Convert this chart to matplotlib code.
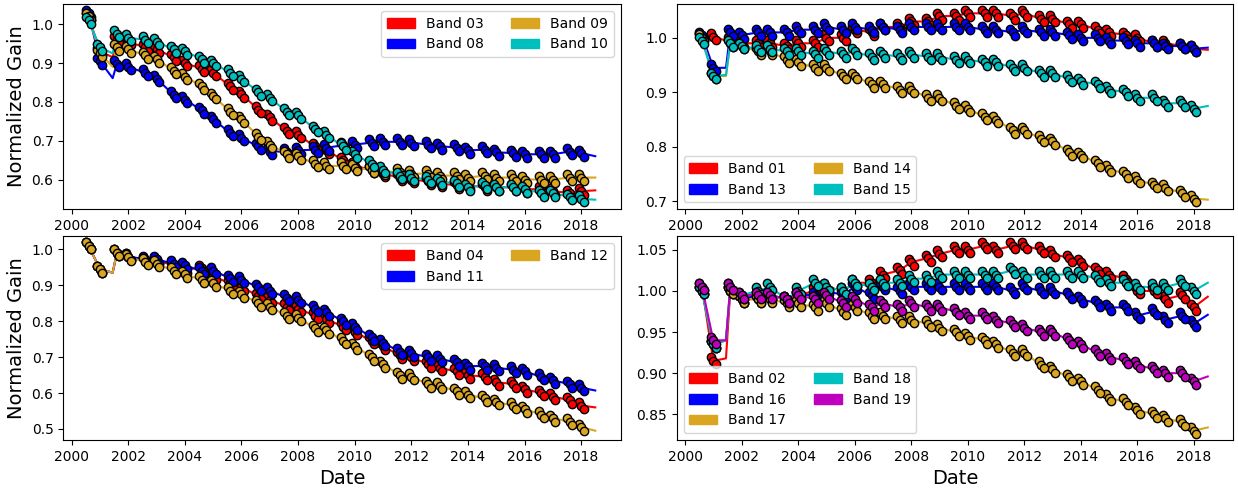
#!/usr/bin/env python
import numpy as np
import matplotlib
matplotlib.use('Agg')
import matplotlib.pyplot as plt
import matplotlib.transforms as mtransforms
from matplotlib.patches import Patch

# observation epochs (decimal year); 2001.45 and 2018.5 are trend-only knots
dates = [2000.6, 2001.0, 2001.45, 2001.6, 2002.0, 2002.6, 2003.0, 2003.6, 2004.0,
         2004.6, 2005.0, 2005.6, 2006.0, 2006.6, 2007.0, 2007.6, 2008.0, 2008.6,
         2009.0, 2009.6, 2010.0, 2010.6, 2011.0, 2011.6, 2012.0, 2012.6, 2013.0,
         2013.6, 2014.0, 2014.6, 2015.0, 2015.6, 2016.0, 2016.6, 2017.0, 2017.6,
         2018.0, 2018.5]
trend_only = [2001.45, 2018.5]

# top-left panel
band03 = [1.02, 0.93, 0.915, 0.96, 0.955, 0.94, 0.935, 0.915, 0.90, 0.885, 0.875,
          0.84, 0.82, 0.78, 0.76, 0.725, 0.715, 0.685, 0.675, 0.65, 0.635, 0.625,
          0.615, 0.605, 0.60, 0.595, 0.59, 0.585, 0.585, 0.58, 0.58, 0.58, 0.575,
          0.575, 0.57, 0.565, 0.57, 0.572]
band08 = [1.028, 0.905, 0.861, 0.898, 0.89, 0.875, 0.86, 0.818, 0.806, 0.778, 0.755,
          0.72, 0.707, 0.685, 0.672, 0.672, 0.675, 0.677, 0.682, 0.688, 0.69, 0.695,
          0.697, 0.697, 0.695, 0.69, 0.686, 0.682, 0.675, 0.677, 0.67, 0.668, 0.665,
          0.665, 0.665, 0.672, 0.668, 0.66]
band09 = [1.02, 0.925, 0.89, 0.94, 0.935, 0.92, 0.91, 0.88, 0.865, 0.84, 0.815,
          0.775, 0.755, 0.71, 0.69, 0.665, 0.66, 0.64, 0.635, 0.635, 0.63, 0.625,
          0.62, 0.62, 0.615, 0.615, 0.61, 0.61, 0.605, 0.61, 0.605, 0.605, 0.60,
          0.60, 0.60, 0.605, 0.605, 0.605]
band10 = [1.01, 0.94, 0.925, 0.975, 0.965, 0.96, 0.955, 0.935, 0.93, 0.91, 0.90,
          0.875, 0.86, 0.825, 0.81, 0.775, 0.765, 0.73, 0.715, 0.685, 0.665, 0.64,
          0.625, 0.61, 0.605, 0.60, 0.595, 0.59, 0.58, 0.585, 0.58, 0.58, 0.575,
          0.565, 0.565, 0.555, 0.55, 0.548]

# top-right panel
band01 = [1.003, 1.002, 0.995, 0.995, 0.99, 0.99, 0.99, 0.985, 0.99, 0.99, 1.0,
          1.0, 1.015, 1.01, 1.02, 1.02, 1.03, 1.03, 1.04, 1.04, 1.045, 1.045,
          1.045, 1.04, 1.045, 1.035, 1.035, 1.025, 1.025, 1.015, 1.01, 1.005, 1.0,
          0.99, 0.99, 0.985, 0.98, 0.978]
band13 = [1.005, 0.945, 0.945, 1.01, 1.005, 1.01, 1.01, 1.01, 1.015, 1.015, 1.02,
          1.015, 1.02, 1.015, 1.02, 1.015, 1.02, 1.02, 1.02, 1.02, 1.02, 1.015,
          1.015, 1.01, 1.015, 1.01, 1.01, 1.005, 1.0, 1.0, 0.995, 0.995, 0.99,
          0.99, 0.985, 0.985, 0.98, 0.982]
band14 = [1.0, 0.93, 0.93, 0.99, 0.985, 0.975, 0.975, 0.96, 0.955, 0.945, 0.945,
          0.93, 0.93, 0.915, 0.915, 0.905, 0.905, 0.89, 0.89, 0.875, 0.87, 0.855,
          0.85, 0.83, 0.83, 0.815, 0.81, 0.79, 0.785, 0.77, 0.76, 0.75, 0.74,
          0.73, 0.725, 0.715, 0.705, 0.703]
band15 = [0.995, 0.93, 0.932, 0.99, 0.985, 0.98, 0.98, 0.975, 0.975, 0.97, 0.975,
          0.97, 0.975, 0.965, 0.97, 0.965, 0.97, 0.965, 0.965, 0.96, 0.96, 0.955,
          0.955, 0.945, 0.945, 0.935, 0.935, 0.925, 0.92, 0.915, 0.905, 0.90, 0.89,
          0.89, 0.88, 0.88, 0.87, 0.875]

# bottom-left panel
band04 = [1.01, 0.945, 0.935, 0.99, 0.98, 0.97, 0.97, 0.955, 0.945, 0.948, 0.925,
          0.905, 0.895, 0.87, 0.86, 0.84, 0.835, 0.815, 0.805, 0.785, 0.77, 0.745,
          0.73, 0.705, 0.70, 0.68, 0.67, 0.66, 0.65, 0.645, 0.63, 0.625, 0.61,
          0.60, 0.59, 0.58, 0.565, 0.56]
band11 = [1.01, 0.945, 0.935, 0.99, 0.98, 0.972, 0.972, 0.96, 0.955, 0.94, 0.94,
          0.92, 0.915, 0.895, 0.885, 0.865, 0.86, 0.835, 0.825, 0.80, 0.785, 0.755,
          0.74, 0.715, 0.71, 0.70, 0.695, 0.685, 0.675, 0.675, 0.67, 0.665, 0.66,
          0.645, 0.635, 0.625, 0.615, 0.607]
band12 = [1.01, 0.945, 0.935, 0.99, 0.978, 0.965, 0.96, 0.94, 0.93, 0.915, 0.905,
          0.885, 0.875, 0.85, 0.84, 0.815, 0.81, 0.78, 0.775, 0.745, 0.73, 0.70,
          0.68, 0.65, 0.645, 0.625, 0.62, 0.605, 0.595, 0.585, 0.575, 0.565, 0.555,
          0.54, 0.53, 0.52, 0.505, 0.495]

# bottom-right panel
band02 = [1.005, 0.915, 0.918, 1.0, 0.99, 0.99, 0.995, 0.99, 0.995, 1.0, 1.005,
          1.0, 1.01, 1.01, 1.02, 1.025, 1.035, 1.04, 1.045, 1.05, 1.05, 1.055,
          1.05, 1.055, 1.055, 1.05, 1.045, 1.04, 1.035, 1.025, 1.02, 1.015, 1.0,
          1.0, 0.99, 0.995, 0.98, 0.993]
band16 = [1.0, 0.935, 0.94, 1.0, 0.99, 0.995, 0.995, 0.99, 0.995, 0.995, 1.0,
          0.995, 1.005, 0.995, 1.005, 1.0, 1.005, 1.005, 1.005, 1.005, 1.005, 1.005,
          1.005, 1.0, 1.005, 1.0, 1.0, 0.995, 0.99, 0.985, 0.98, 0.98, 0.97,
          0.975, 0.965, 0.97, 0.96, 0.971]
band17 = [1.0, 0.935, 0.94, 1.0, 0.99, 0.99, 0.99, 0.985, 0.985, 0.98, 0.985,
          0.975, 0.98, 0.97, 0.97, 0.965, 0.965, 0.96, 0.955, 0.95, 0.945, 0.94,
          0.935, 0.925, 0.925, 0.91, 0.905, 0.895, 0.89, 0.88, 0.87, 0.865, 0.855,
          0.85, 0.845, 0.84, 0.83, 0.834]
band18 = [1.0, 0.935, 0.94, 1.005, 0.995, 1.0, 1.005, 0.99, 1.0, 1.01, 1.005,
          1.0, 1.01, 1.005, 1.01, 1.01, 1.015, 1.015, 1.02, 1.02, 1.02, 1.02,
          1.02, 1.025, 1.02, 1.02, 1.02, 1.02, 1.02, 1.015, 1.01, 1.01, 1.005,
          1.005, 1.005, 1.01, 1.0, 1.01]
band19 = [1.005, 0.94, 0.94, 1.005, 0.995, 0.995, 0.995, 0.99, 0.995, 0.99, 0.995,
          0.985, 0.99, 0.98, 0.985, 0.98, 0.985, 0.98, 0.98, 0.975, 0.97, 0.97,
          0.965, 0.96, 0.955, 0.95, 0.95, 0.94, 0.935, 0.925, 0.92, 0.915, 0.91,
          0.905, 0.90, 0.90, 0.89, 0.896]

panels = [
  [('Band 03', band03, 'r'), ('Band 08', band08, 'b'),
   ('Band 09', band09, 'goldenrod'), ('Band 10', band10, 'c')],
  [('Band 01', band01, 'r'), ('Band 13', band13, 'b'),
   ('Band 14', band14, 'goldenrod'), ('Band 15', band15, 'c')],
  [('Band 04', band04, 'r'), ('Band 11', band11, 'b'),
   ('Band 12', band12, 'goldenrod')],
  [('Band 02', band02, 'r'), ('Band 16', band16, 'b'),
   ('Band 17', band17, 'goldenrod'), ('Band 18', band18, 'c'),
   ('Band 19', band19, 'm')],
]
legend_loc = ['upper right', 'lower left', 'upper right', 'lower left']

if __name__ == '__main__':

  fig = plt.figure(figsize=(12.38, 4.88), dpi=100)
  rects = [[0.0511, 0.5717, 0.4502, 0.4201],
           [0.5466, 0.5717, 0.4494, 0.4201],
           [0.0511, 0.0984, 0.4502, 0.4170],
           [0.5466, 0.0984, 0.4494, 0.4170]]

  x = np.array(dates)
  obs = ~np.isin(x, trend_only)
  # marker smear within an epoch, in points (purely cosmetic)
  smear = [(-1.8, 2.5), (0.0, 0.0), (1.8, -2.5)]

  for ip, bands in enumerate(panels):
    ax = fig.add_axes(rects[ip])
    handles = []
    for label, gain, color in bands:
      ax.plot(x, np.array(gain), '-', color=color, lw=1.5, zorder=2)
      handles.append(Patch(color=color, label=label))
    for label, gain, color in bands:
      y = np.array(gain)
      for dx, dy in smear:
        trans = mtransforms.offset_copy(ax.transData, fig=fig, x=dx, y=dy,
                                        units='points')
        ax.plot(x[obs], y[obs], 'o', color=color, mec='k', mew=1.0,
                ms=6, zorder=3, transform=trans)
    ax.set_xticks(np.arange(2000, 2019, 2))
    ax.tick_params(labelsize=10)
    ax.legend(handles=handles, loc=legend_loc[ip], ncol=2, fontsize=10)
    if ip % 2 == 0:
      ax.set_ylabel('Normalized Gain', fontsize=14)
    if ip >= 2:
      ax.set_xlabel('Date', fontsize=14)
  # end for

  fig.savefig('out.png', dpi=100)
